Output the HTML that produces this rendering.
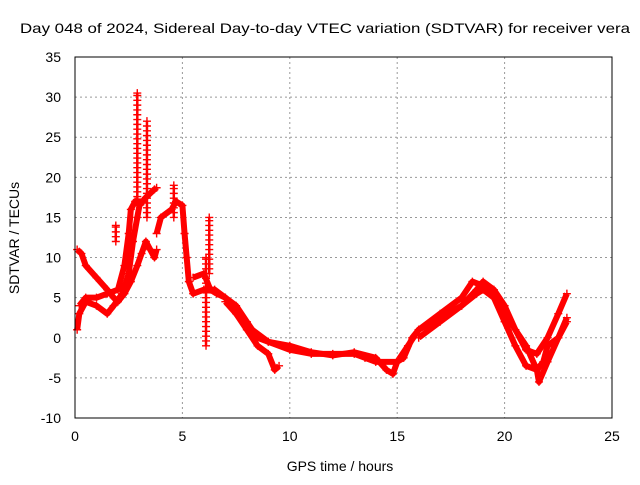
<!DOCTYPE html>
<html><head><meta charset="utf-8"><style>
body{margin:0;background:#fff}
svg text{font-family:"Liberation Sans",sans-serif;font-size:14px;fill:#000}
</style></head><body>
<svg id="chart" width="640" height="480" xmlns="http://www.w3.org/2000/svg">
<rect width="640" height="480" fill="#fff"/>
<text x="20" y="33" textLength="610" lengthAdjust="spacingAndGlyphs">Day 048 of 2024, Sidereal Day-to-day VTEC variation (SDTVAR) for receiver vera</text>
<text x="340" y="471" text-anchor="middle">GPS time / hours</text>
<text transform="translate(19,238) rotate(-90)" text-anchor="middle">SDTVAR / TECUs</text>
<g id="grid"></g><g id="marks"></g>
<rect x="75" y="57" width="537" height="361" fill="none" stroke="#000"/>
</svg>
<script>
const xTicks=[0,5,10,15,20,25];
const yTicks=[-10,-5,0,5,10,15,20,25,30,35];
const trackA=[[0.1,11],[0.3,10.5],[0.5,9],[1.0,7.5],[1.5,6],[1.8,5],[2.0,4.5],[2.3,5.5],[2.6,7],[2.9,9],[3.1,10.5],[3.3,12],[3.5,11],[3.7,10],[3.8,11]];
const trackB=[[0.1,1],[0.2,3],[0.5,4.5],[1.0,4],[1.5,3],[1.8,4],[2.2,5.5],[2.5,8],[2.7,12],[2.9,15],[3.0,16.5],[3.3,17.5],[3.7,18.5],[3.8,18.7]];
const trackC=[[0.2,4],[0.5,5],[1,5],[1.5,5.5],[2,6],[2.3,9],[2.5,13],[2.6,16],[2.8,17],[3.2,17]];
const trackD=[[3.8,13],[4.0,15],[4.5,16],[4.7,17],[5.0,16.5],[5.1,13],[5.2,10],[5.3,7],[5.5,5.5],[6.0,6],[6.5,6],[7,5],[7.5,3],[8,1],[8.5,-1],[9,-2],[9.3,-4],[9.5,-3.5]];
const trackE=[[5.5,7.5],[6,8],[6.3,6],[6.6,5.5],[7,5],[7.5,4],[8,2],[8.5,0],[9,-0.5],[10,-1],[11,-1.8],[12,-2.2],[13,-1.8],[14,-2.5],[14.5,-4],[14.8,-4.5],[15,-3],[15.3,-2.5],[15.7,0],[16,1],[17,2.5],[18,4],[18.7,6],[19,7],[19.5,6],[20,4],[20.5,1],[21,-1.5],[21.5,-2],[22,0],[22.5,3],[22.9,5.5]];
const trackF=[[7,4.5],[8,1.5],[9,-0.5],[10,-1.5],[11,-2],[12,-2],[13,-2],[13.5,-2.5],[14,-3],[15,-3],[15.5,-1],[16,1],[17,3],[18,5],[18.5,7],[19,6.5],[19.5,5],[20,2],[20.5,-1],[21,-3.5],[21.5,-4],[21.8,-3],[22,-1],[22.5,0],[22.9,2.5]];
const trackG=[[16,0],[17,2],[18,4],[18.7,5.5],[19,6],[19.5,5],[20,3],[21,-1],[21.5,-4],[21.6,-5.5],[22,-3],[22.5,0],[22.9,2]];
const spikes=[[1.9,12,14],[2.9,17,30.5],[3.35,15,27],[4.6,15,19],[6.1,-1,10],[6.25,8,15]];
const X=h=>75+h*537/25, Y=v=>418-(v+10)*361/45;
const NS='http://www.w3.org/2000/svg';
const grid=document.getElementById('grid'),marks=document.getElementById('marks');
function mk(t,a,p){const e=document.createElementNS(NS,t);for(const k in a)e.setAttribute(k,a[k]);p.appendChild(e);return e;}
xTicks.forEach(t=>{
 if(t>0&&t<25){const l=mk('line',{x1:X(t),x2:X(t),y1:57,y2:418,stroke:'#999','stroke-dasharray':'2,3'},grid);
 
 }
 const s=mk('text',{x:X(t),y:441,'text-anchor':'middle'},grid);s.textContent=t;
 
 
});
yTicks.forEach(t=>{
 if(t>-10&&t<35){const l=mk('line',{x1:75,x2:612,y1:Y(t),y2:Y(t),stroke:'#999','stroke-dasharray':'2,3'},grid);
 
 }
 const s=mk('text',{x:61,y:Y(t)+5,'text-anchor':'end'},grid);s.textContent=t;
 
 
});
function plus(x,y){mk('path',{d:`M${x-4},${y}h8M${x},${y-4}v8`,stroke:'#f00','stroke-width':1.4},marks);}
[trackA,trackB,trackC,trackD,trackE,trackF,trackG].forEach(tr=>{
 const p=mk('polyline',{points:tr.map(d=>X(d[0])+','+Y(d[1])).join(' '),fill:'none',stroke:'#f00','stroke-width':6,'stroke-linejoin':'round'},marks);
 
 
 tr.forEach(d=>plus(X(d[0]),Y(d[1])));
});
spikes.forEach(s=>{
 const l=mk('line',{x1:X(s[0]),x2:X(s[0]),y1:Y(s[1]),y2:Y(s[2]),stroke:'#f00','stroke-width':2.5},marks);
 
 
 for(let v=s[1];v<=s[2];v+=0.6)plus(X(s[0]),Y(v));
 plus(X(s[0]),Y(s[2]));
});
</script>
</body></html>
